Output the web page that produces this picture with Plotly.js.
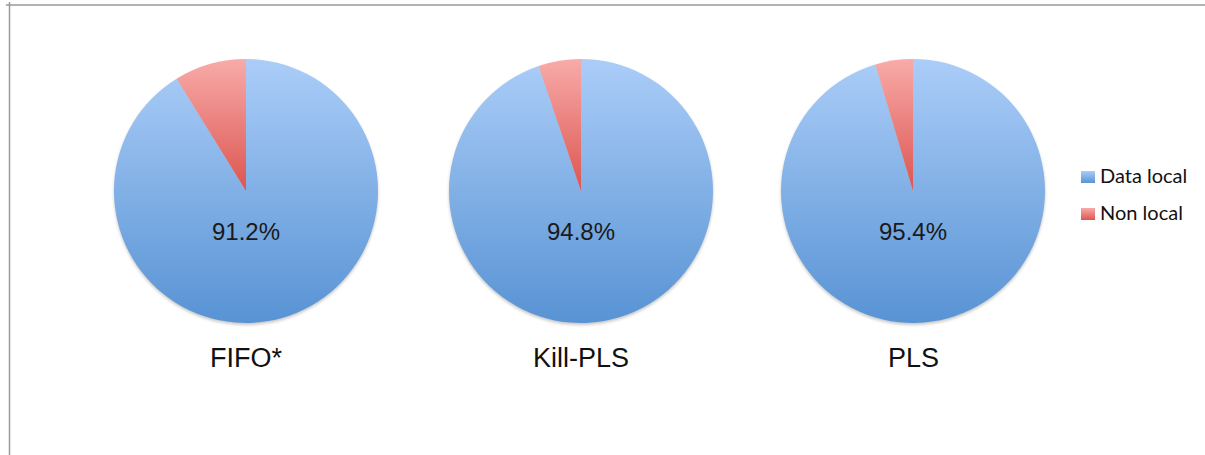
<!DOCTYPE html>
<html>
<head>
<meta charset="utf-8">
<script src="https://cdn.plot.ly/plotly-3.0.1.min.js"></script>
<style>
html,body{margin:0;padding:0;background:#fff;}
#chart{width:1205px;height:455px;}
</style>
</head>
<body>
<div id="chart"></div>
<script>
// ---- data ----
const schedulers = ['FIFO*', 'Kill-PLS', 'PLS'];
const categories = ['Data local', 'Non local'];
const dataLocal = [91.2, 94.8, 95.4];
const nonLocal = [8.8, 5.2, 4.6];
const percentLabels = ['91.2%', '94.8%', '95.4%'];

// ---- styling ----
const W = 1205, H = 455;
const baseColors = ['#80aee9', '#ea7f7b'];
const gradStops = [['#abcdf8', '#5893d4'], ['#f8aba9', '#dc5550']];
const pieDomainsPx = [[114, 378], [449, 713], [781, 1045]];
const pieTopPx = 59, pieBottomPx = 323;
const px = v => v / W;
const py = v => 1 - v / H;

const traces = schedulers.map((s, i) => ({
  type: 'pie',
  name: s,
  labels: categories,
  values: [dataLocal[i], nonLocal[i]],
  sort: false,
  direction: 'clockwise',
  rotation: 0,
  textinfo: 'none',
  hoverinfo: 'none',
  showlegend: false,
  marker: {colors: baseColors, line: {width: 0}},
  domain: {x: [px(pieDomainsPx[i][0]), px(pieDomainsPx[i][1])], y: [py(pieBottomPx), py(pieTopPx)]}
}));

const annotations = [];
schedulers.forEach((s, i) => {
  const cx = (pieDomainsPx[i][0] + pieDomainsPx[i][1]) / 2;
  annotations.push({
    xref: 'paper', yref: 'paper', x: px(cx), y: py(231), xanchor: 'center', yanchor: 'middle',
    text: percentLabels[i], showarrow: false,
    font: {family: 'Liberation Sans, Arial, sans-serif', size: 24, color: '#1a1a1a'}
  });
  annotations.push({
    xref: 'paper', yref: 'paper', x: px(cx), y: py(358), xanchor: 'center', yanchor: 'middle',
    text: s, showarrow: false,
    font: {family: 'Liberation Sans, Arial, sans-serif', size: 27, color: '#111'}
  });
});

// custom legend
const legendY = [177, 214];
const shapes = [
  {type: 'line', xref: 'paper', yref: 'paper', x0: px(6), x1: px(1205), y0: py(5), y1: py(5), line: {color: '#9a9a9a', width: 1.5}},
  {type: 'line', xref: 'paper', yref: 'paper', x0: px(9.5), x1: px(9.5), y0: py(2), y1: py(455), line: {color: '#9a9a9a', width: 1.5}}
];
categories.forEach((c, k) => {
  shapes.push({type: 'rect', xref: 'paper', yref: 'paper',
    x0: px(1081), x1: px(1095), y0: py(legendY[k] - 6), y1: py(legendY[k] + 6),
    fillcolor: baseColors[k], line: {width: 0}});
  annotations.push({
    xref: 'paper', yref: 'paper', x: px(1098), y: py(legendY[k] - 2), xanchor: 'left', yanchor: 'middle',
    text: c, showarrow: false,
    font: {family: 'Lato, Carlito, sans-serif', size: 20, color: '#111'}
  });
});

const layout = {
  width: W, height: H,
  margin: {l: 0, r: 0, t: 0, b: 0},
  paper_bgcolor: '#fff',
  plot_bgcolor: '#fff',
  showlegend: false,
  annotations: annotations,
  shapes: shapes
};

Plotly.newPlot('chart', traces, layout, {staticPlot: true, displayModeBar: false}).then(gd => {
  const svg = gd.querySelector('svg.main-svg');
  const NS = 'http://www.w3.org/2000/svg';
  let defs = svg.querySelector('defs');
  if (!defs) { defs = document.createElementNS(NS, 'defs'); svg.insertBefore(defs, svg.firstChild); }
  gradStops.forEach((st, k) => {
    const g = document.createElementNS(NS, 'linearGradient');
    g.setAttribute('id', 'grad' + k);
    g.setAttribute('x1', '0'); g.setAttribute('y1', '0');
    g.setAttribute('x2', '0'); g.setAttribute('y2', '1');
    st.forEach((col, j) => {
      const s = document.createElementNS(NS, 'stop');
      s.setAttribute('offset', j === 0 ? '0' : '1');
      s.setAttribute('stop-color', col);
      g.appendChild(s);
    });
    defs.appendChild(g);
  });
  gd.querySelectorAll('.pielayer .trace').forEach(tr => {
    tr.style.filter = 'drop-shadow(0px 2px 1.5px rgba(0,0,0,0.22))';
    tr.querySelectorAll('.slice path.surface').forEach((p, k) => {
      p.style.fill = 'url(#grad' + k + ')';
    });
  });
  const rects = gd.querySelectorAll('.shapelayer path');
  let k = 0;
  rects.forEach(p => {
    const f = p.style.fill;
    if (f && f !== 'none' && f !== 'rgba(0, 0, 0, 0)') {
      p.style.fill = 'url(#grad' + (k % 2) + ')';
      k++;
    }
  });
});
</script>
</body>
</html>
